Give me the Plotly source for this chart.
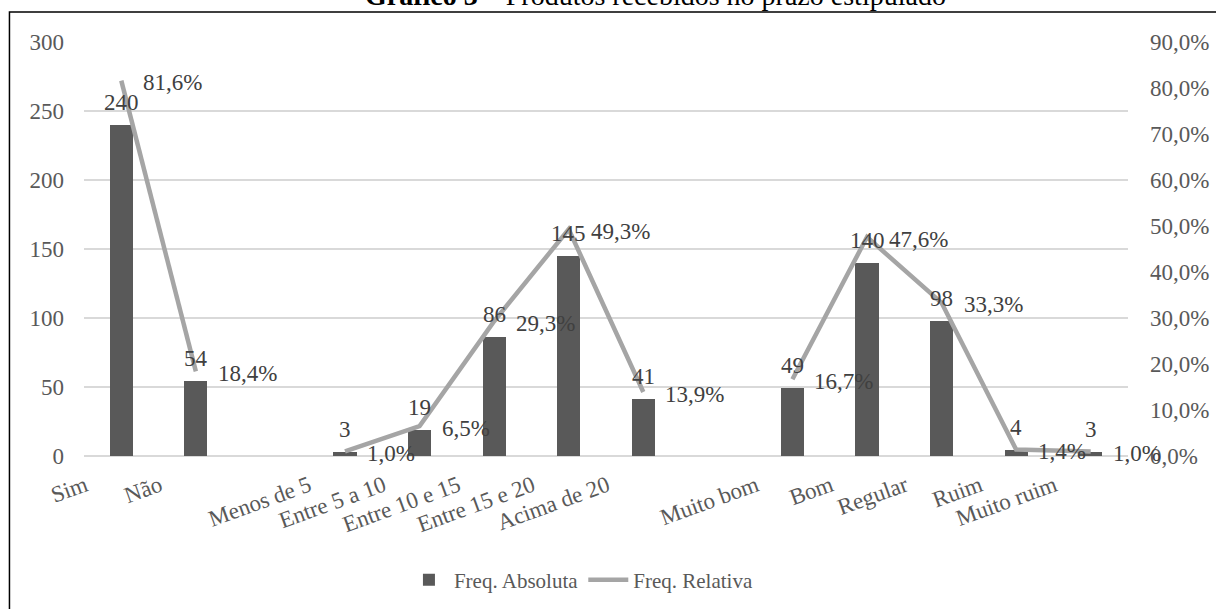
import plotly.graph_objects as go

# Categories (empty strings separate the three question groups)
categorias = ["Sim", "Não", "",
              "Menos de 5", "Entre 5 a 10", "Entre 10 e 15", "Entre 15 e 20", "Acima de 20", "",
              "Muito bom", "Bom", "Regular", "Ruim", "Muito ruim"]
freq_absoluta = [240, 54, None, 3, 19, 86, 145, 41, None, 49, 140, 98, 4, 3]
freq_relativa = [81.6, 18.4, None, 1.0, 6.5, 29.3, 49.3, 13.9, None, 16.7, 47.6, 33.3, 1.4, 1.0]

y_ticks_abs = [0, 50, 100, 150, 200, 250, 300]
y_ticks_rel = [0, 10, 20, 30, 40, 50, 60, 70, 80, 90]

FONT = "Liberation Serif, Times New Roman, serif"
TXT = "#595959"
LBL = "#404040"
BAR = "#595959"
LINE = "#A5A5A5"
GRID = "#D9D9D9"


def pct(v):
    return f"{v:.1f}".replace(".", ",") + "%"


pos = list(range(len(categorias)))
tick_pos = [i for i, c in enumerate(categorias) if c]
tick_txt = [c for c in categorias if c]

fig = go.Figure()
fig.add_trace(go.Bar(
    x=pos, y=freq_absoluta, name="Freq. Absoluta",
    marker=dict(color=BAR, line=dict(width=0)), width=0.31,
    yaxis="y",
))
fig.add_trace(go.Scatter(
    x=pos, y=freq_relativa, name="Freq. Relativa", mode="lines",
    line=dict(color=LINE, width=4.5), connectgaps=False,
    yaxis="y2",
))

annotations = []
for i, v in enumerate(freq_absoluta):
    if v is None:
        continue
    annotations.append(dict(
        x=i, y=v, xref="x", yref="y", text=str(v), showarrow=False,
        xanchor="center", yanchor="bottom", yshift=8,
        font=dict(family=FONT, size=23, color=LBL),
    ))
for i, v in enumerate(freq_relativa):
    if v is None:
        continue
    annotations.append(dict(
        x=i, y=v, xref="x", yref="y2", text=pct(v),
        showarrow=False, xanchor="left", yanchor="middle", xshift=20, yshift=-2,
        font=dict(family=FONT, size=23, color=LBL),
    ))

# Caption above the chart frame
annotations.append(dict(
    x=0.267, y=1.07, xref="paper", yref="paper", xanchor="left", yanchor="bottom",
    text="<b>Gráfico 3</b> – Produtos recebidos no prazo estipulado",
    showarrow=False, font=dict(family=FONT, size=28, color="#000000"),
))

fig.update_layout(
    template="none",
    width=1216, height=609,
    margin=dict(l=84, r=88, t=42, b=153, autoexpand=False),
    paper_bgcolor="white", plot_bgcolor="white",
    bargap=0,
    font=dict(family=FONT, size=23, color=TXT),
    xaxis=dict(
        range=[-0.5, len(categorias) - 0.5],
        tickmode="array", tickvals=tick_pos, ticktext=tick_txt,
        tickangle=-20, ticks="", showgrid=False, zeroline=False, showline=False,
        tickfont=dict(family=FONT, size=23, color=TXT),
        ticklabelshift=-36, ticklabelstandoff=11,
    ),
    yaxis=dict(
        range=[0, 300], tickmode="array", tickvals=y_ticks_abs,
        showgrid=True, gridcolor=GRID, gridwidth=1.5,
        zeroline=True, zerolinecolor=GRID, zerolinewidth=1.5,
        showline=False, ticks="", ticklabelstandoff=19,
        tickfont=dict(family=FONT, size=23, color=TXT),
    ),
    yaxis2=dict(
        range=[0, 90], overlaying="y", side="right",
        tickmode="array", tickvals=y_ticks_rel, ticktext=[pct(t) for t in y_ticks_rel],
        showgrid=False, zeroline=False, showline=False, ticks="",
        ticklabelstandoff=21,
        tickfont=dict(family=FONT, size=23, color=TXT),
    ),
    legend=dict(
        orientation="h", x=0.476, xanchor="center", y=-0.3, yanchor="middle",
        font=dict(family=FONT, size=21, color=TXT),
        itemwidth=40, bgcolor="rgba(0,0,0,0)",
    ),
    annotations=annotations,
    shapes=[dict(
        type="rect", xref="paper", yref="paper",
        x0=-0.0714, x1=1.098, y0=-0.396, y1=1.0725,
        line=dict(color="#000000", width=1.5), fillcolor="rgba(0,0,0,0)", layer="below",
    )],
)

fig.write_html("out.html")
